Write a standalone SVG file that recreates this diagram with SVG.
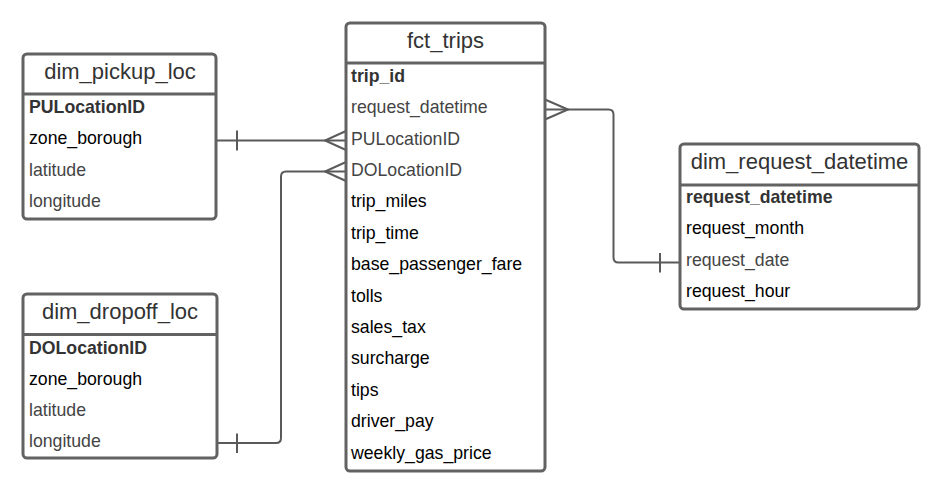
<svg xmlns="http://www.w3.org/2000/svg" width="943" height="498" viewBox="0 0 943 498">
<style>
.box{fill:#fff;stroke:#626262;stroke-width:3}
.div{stroke:#626262;stroke-width:3}
.hdr{font-family:"Liberation Sans",Arial,sans-serif;font-size:22px;fill:#333;text-anchor:middle}
.row{font-family:"Liberation Sans",Arial,sans-serif;font-size:17.7px;fill:#000}
.g{fill:#444}
.b{font-weight:bold;fill:#333}
.con{fill:none;stroke:#5a5a5a;stroke-width:2}
</style>
<rect width="943" height="498" fill="#fff"/>
<g id="connectors">
  <!-- pickup to fct -->
  <path class="con" d="M216 140.5 H346"/>
  <path class="con" d="M237 130.5 V150.5"/>
  <path class="con" d="M346 131 L325 140.5 L346 150"/>
  <!-- dropoff to fct -->
  <path class="con" d="M217 443 H276 Q281 443 281 438 V176.5 Q281 171.5 286 171.5 H346"/>
  <path class="con" d="M237 433.5 V453"/>
  <path class="con" d="M346 162 L325 171.5 L346 181"/>
  <!-- fct to request -->
  <path class="con" d="M545 109.5 H608.5 Q613.5 109.5 613.5 114.5 V257.5 Q613.5 262.5 618.5 262.5 H680"/>
  <path class="con" d="M545 99.5 L568 109.5 L545 119.5"/>
  <path class="con" d="M660 253 V272.5"/>
</g>
<g id="dim_pickup_loc">
  <rect class="box" x="23" y="54" width="193" height="165" rx="4"/>
  <line class="div" x1="23" y1="94" x2="216" y2="94"/>
  <text class="hdr" x="120" y="78.5">dim_pickup_loc</text>
  <text class="row b" x="29" y="113">PULocationID</text>
  <text class="row" x="29" y="144.3">zone_borough</text>
  <text class="row g" x="29" y="175.6">latitude</text>
  <text class="row g" x="29" y="206.9">longitude</text>
</g>
<g id="fct_trips">
  <rect class="box" x="346" y="23" width="199" height="448" rx="4"/>
  <line class="div" x1="346" y1="63" x2="545" y2="63"/>
  <text class="hdr" x="445.5" y="47.5">fct_trips</text>
  <text class="row b" x="351" y="81.7">trip_id</text>
  <text class="row g" x="351" y="113.1">request_datetime</text>
  <text class="row g" x="351" y="144.5">PULocationID</text>
  <text class="row g" x="351" y="175.9">DOLocationID</text>
  <text class="row" x="351" y="207.3">trip_miles</text>
  <text class="row" x="351" y="238.7">trip_time</text>
  <text class="row" x="351" y="270.1">base_passenger_fare</text>
  <text class="row" x="351" y="301.5">tolls</text>
  <text class="row" x="351" y="332.9">sales_tax</text>
  <text class="row" x="351" y="364.3">surcharge</text>
  <text class="row" x="351" y="395.7">tips</text>
  <text class="row" x="351" y="427.1">driver_pay</text>
  <text class="row" x="351" y="458.5">weekly_gas_price</text>
</g>
<g id="dim_dropoff_loc">
  <rect class="box" x="23" y="294" width="194" height="164" rx="4"/>
  <line class="div" x1="23" y1="334.5" x2="217" y2="334.5"/>
  <text class="hdr" x="120" y="318.5">dim_dropoff_loc</text>
  <text class="row b" x="29" y="353.5">DOLocationID</text>
  <text class="row" x="29" y="384.5">zone_borough</text>
  <text class="row g" x="29" y="415.5">latitude</text>
  <text class="row g" x="29" y="446.5">longitude</text>
</g>
<g id="dim_request_datetime">
  <rect class="box" x="680" y="144" width="239" height="165" rx="4"/>
  <line class="div" x1="680" y1="185" x2="919" y2="185"/>
  <text class="hdr" x="799.5" y="168.5">dim_request_datetime</text>
  <text class="row b" x="686" y="203">request_datetime</text>
  <text class="row" x="686" y="234.4">request_month</text>
  <text class="row g" x="686" y="265.8">request_date</text>
  <text class="row" x="686" y="297.2">request_hour</text>
</g>
</svg>
